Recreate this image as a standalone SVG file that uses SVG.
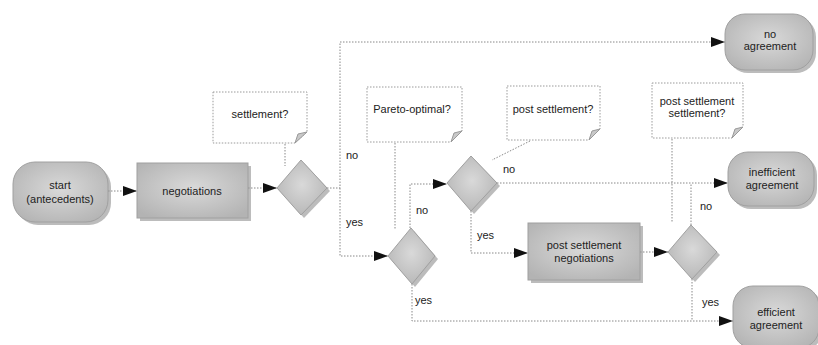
<svg xmlns="http://www.w3.org/2000/svg" width="818" height="345" viewBox="0 0 818 345">
<defs>
<radialGradient id="g" cx="50%" cy="45%" r="65%">
<stop offset="0" stop-color="#d9d9d9"/>
<stop offset="1" stop-color="#b3b3b3"/>
</radialGradient>
<marker id="arr" markerUnits="userSpaceOnUse" markerWidth="16" markerHeight="12" refX="14" refY="6" orient="auto">
<path d="M0,1 L14,6 L0,11 Z" fill="#111"/>
</marker>
</defs>
<style>
.n{fill:url(#g);stroke:#a0a0a0;stroke-width:1}
.sh{fill:#8f8f8f;opacity:0.6}
.c{fill:#fff;stroke:#9a9a9a;stroke-width:1;stroke-dasharray:1.5 1.5}
.fold{fill:#c8c8c8;stroke:#9a9a9a;stroke-width:1}
.e{fill:none;stroke:#888;stroke-width:1;stroke-dasharray:1.5 1.5}
text{font-family:"Liberation Sans",Arial,sans-serif;font-size:11px;fill:#222}
.m{text-anchor:middle}
</style>
<rect width="818" height="345" fill="#fff"/>

<g id="connectors">
<path class="e" d="M108,191 H137" marker-end="url(#arr)"/>
<path class="e" d="M248,188 H277" marker-end="url(#arr)"/>
<path class="e" d="M327,188 H340 V42 H725" marker-end="url(#arr)"/>
<path class="e" d="M340,188 V256 H388" marker-end="url(#arr)"/>
<path class="e" d="M410,228 V184 H447" marker-end="url(#arr)"/>
<path class="e" d="M497,183 H728" marker-end="url(#arr)"/>
<path class="e" d="M471,211 V253 H528" marker-end="url(#arr)"/>
<path class="e" d="M640,252 H668" marker-end="url(#arr)"/>
<path class="e" d="M691,225 V183"/>
<path class="e" d="M692,279 V321"/>
<path class="e" d="M412,284 V321 H733" marker-end="url(#arr)"/>
<path class="e" d="M285,144 V166"/>
<path class="e" d="M395,143 V230"/>
<path class="e" d="M530,141 L492,160"/>
<path class="e" d="M672,139 V222"/>
<text x="346" y="159">no</text>
<text x="346" y="226">yes</text>
<text x="416" y="214">no</text>
<text x="503" y="173">no</text>
<text x="477" y="239">yes</text>
<text x="700" y="210">no</text>
<text x="702" y="306">yes</text>
<text x="415" y="304">yes</text>
</g>

<g id="start">
<rect class="sh" x="16" y="165" width="95" height="60" rx="22"/>
<rect class="n" x="13" y="162" width="95" height="60" rx="22"/>
<text class="m" x="60" y="189">start</text>
<text class="m" x="60" y="203">(antecedents)</text>
</g>

<g id="negotiations">
<rect class="sh" x="140" y="166" width="111" height="55"/>
<rect class="n" x="137" y="163" width="111" height="55"/>
<text class="m" x="192" y="195">negotiations</text>
</g>

<g id="d1">
<path class="sh" d="M280,191 L304,163 L330,191 L304,218 Z"/>
<path class="n" d="M277,188 L301,160 L327,188 L301,215 Z"/>
</g>

<g id="c-settlement">
<path class="c" d="M213,92 H307 V132 L295,143 H213 Z"/>
<path class="fold" d="M295,143 L298,134 L307,132 Z"/>
<text class="m" x="260" y="118">settlement?</text>
</g>

<g id="no-agreement">
<rect class="sh" x="728" y="17" width="88" height="56" rx="20"/>
<rect class="n" x="725" y="14" width="88" height="56" rx="20"/>
<text class="m" x="770" y="38">no</text>
<text class="m" x="770" y="50">agreement</text>
</g>

<g id="c-pareto">
<path class="c" d="M367,87 H462 V131 L451,142 H367 Z"/>
<path class="fold" d="M451,142 L454,133 L462,131 Z"/>
<text class="m" x="412" y="113">Pareto-optimal?</text>
</g>

<g id="d2">
<path class="sh" d="M391,259 L414,231 L438,259 L415,287 Z"/>
<path class="n" d="M388,256 L411,228 L435,256 L412,284 Z"/>
</g>

<g id="d3">
<path class="sh" d="M450,186 L474,159 L500,186 L474,214 Z"/>
<path class="n" d="M447,183 L471,156 L497,183 L471,211 Z"/>
</g>

<g id="c-post">
<path class="c" d="M507,86 H600 V129 L589,140 H507 Z"/>
<path class="fold" d="M589,140 L592,131 L600,129 Z"/>
<text class="m" x="553" y="113">post settlement?</text>
</g>

<g id="inefficient">
<rect class="sh" x="731" y="155" width="86" height="54" rx="20"/>
<rect class="n" x="728" y="152" width="86" height="54" rx="20"/>
<text class="m" x="772" y="176">inefficient</text>
<text class="m" x="772" y="189">agreement</text>
</g>

<g id="c-postpost">
<path class="c" d="M652,83 H743 V127 L732,138 H652 Z"/>
<path class="fold" d="M732,138 L735,129 L743,127 Z"/>
<text class="m" x="697" y="105">post settlement</text>
<text class="m" x="697" y="117">settlement?</text>
</g>

<g id="psn">
<rect class="sh" x="531" y="226" width="112" height="57"/>
<rect class="n" x="528" y="223" width="112" height="57"/>
<text class="m" x="584" y="249">post settlement</text>
<text class="m" x="584" y="262">negotiations</text>
</g>

<g id="d4">
<path class="sh" d="M671,255 L694,228 L720,255 L695,282 Z"/>
<path class="n" d="M668,252 L691,225 L717,252 L692,279 Z"/>
</g>

<g id="efficient">
<rect class="sh" x="736" y="289" width="86" height="62" rx="20"/>
<rect class="n" x="733" y="286" width="86" height="62" rx="20"/>
<text class="m" x="776" y="316">efficient</text>
<text class="m" x="776" y="329">agreement</text>
</g>
</svg>
